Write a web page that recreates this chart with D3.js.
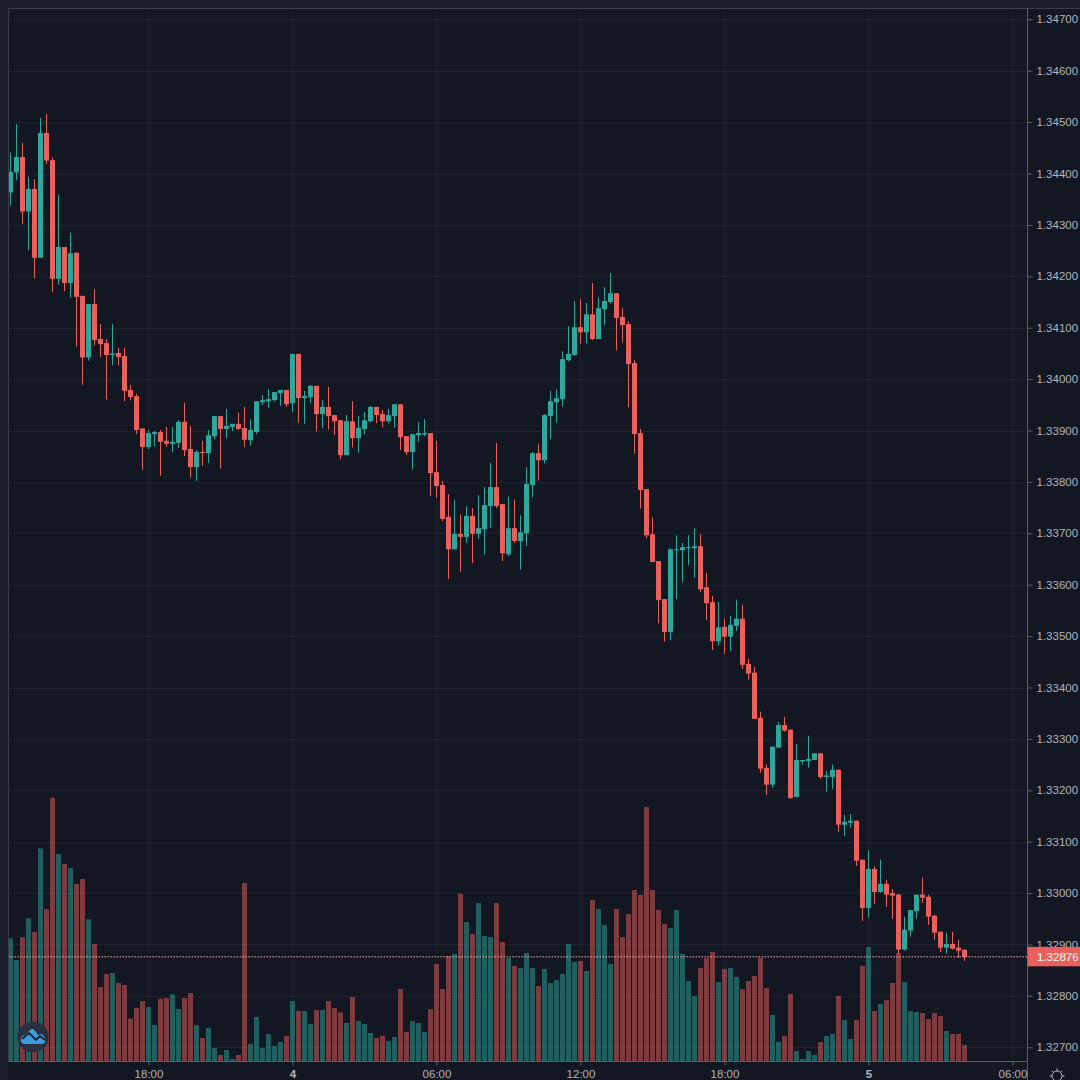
<!DOCTYPE html>
<html>
<head>
<meta charset="utf-8">
<script src="https://cdn.jsdelivr.net/npm/d3@7/dist/d3.min.js"></script>
<style>
html,body{margin:0;padding:0;background:#1a1e2a;overflow:hidden}
svg{display:block}
text{font-family:"Liberation Sans",Arial,sans-serif}
</style>
</head>
<body>
<svg id="chart" width="1080" height="1080"></svg>
<script>
// Prices in units of 0.00001
const open = [134363,134402,134432,134326,134370,134236,134479,134426,134195,134257,134187,134246,134162,134042,134146,134078,134070,134047,134051,134045,133979,133967,133904,133868,133893,133897,133880,133874,133876,133917,133864,133829,133858,133856,133889,133928,133903,133907,133913,133905,133881,133897,133955,133957,133959,133973,133979,133953,134049,133963,133965,133987,133932,133946,133930,133920,133852,133918,133885,133903,133918,133946,133932,133918,133928,133951,133889,133858,133891,133892,133895,133819,133794,133732,133669,133699,133693,133734,133699,133708,133753,133790,133757,133659,133710,133685,133700,133794,133856,133842,133928,133955,133961,134037,134047,134101,134091,134126,134078,134136,134150,134167,134121,134107,134031,133895,133786,133698,133646,133572,133508,133667,133667,133671,133671,133675,133595,133566,133490,133518,133499,133520,133534,133446,133429,133341,133244,133211,133283,133327,133318,133187,133256,133257,133259,133272,133226,133226,133240,133133,133137,133141,133065,132971,133047,133002,133018,133000,132997,132890,132927,132965,132997,132993,132956,132925,132894,132901,132894,132890];
const close = [134403,134432,134326,134370,134236,134479,134425,134195,134257,134187,134245,134160,134042,134146,134076,134068,134047,134050,134043,133977,133965,133901,133868,133895,133897,133878,133874,133878,133917,133862,133829,133858,133856,133891,133928,133903,133909,133913,133903,133882,133901,133957,133959,133961,133975,133979,133951,134049,133963,133967,133987,133932,133946,133928,133918,133852,133918,133885,133905,133920,133946,133930,133918,133930,133951,133887,133858,133893,133895,133895,133817,133792,133728,133669,133699,133693,133734,133699,133710,133755,133790,133753,133661,133710,133685,133702,133796,133856,133842,133930,133957,133963,134039,134049,134101,134091,134126,134078,134138,134152,134167,134119,134105,134029,133893,133784,133696,133644,133570,133508,133669,133669,133673,133673,133675,133591,133564,133490,133517,133499,133522,133534,133444,133427,133339,133242,133211,133285,133327,133316,133185,133259,133259,133261,133272,133226,133229,133240,133133,133139,133141,133063,132971,133047,133002,133018,132997,132995,132890,132929,132967,132997,132991,132954,132923,132894,132901,132892,132888,132876];
const high = [134441,134496,134460,134394,134389,134508,134516,134431,134359,134257,134285,134246,134162,134146,134175,134107,134078,134107,134061,134061,133989,133972,133904,133901,133899,133901,133907,133907,133920,133954,133909,133862,133880,133901,133928,133928,133942,133913,133935,133946,133922,133957,133969,133981,133975,133979,133979,134049,134049,133977,133988,133987,133959,133985,133930,133920,133930,133957,133928,133936,133948,133946,133940,133942,133951,133951,133889,133893,133916,133922,133895,133880,133802,133776,133765,133737,133753,133749,133774,133790,133837,133876,133757,133771,133766,133735,133829,133858,133873,133932,133977,133980,134054,134103,134152,134156,134148,134187,134159,134179,134206,134167,134138,134113,134037,133903,133786,133731,133646,133572,133671,133696,133681,133696,133710,133698,133623,133578,133566,133534,133539,133571,133561,133456,133440,133353,133251,133285,133333,133343,133318,133290,133259,133306,133272,133272,133238,133250,133240,133152,133154,133141,133065,133084,133052,133065,133026,133008,132999,132954,132967,132997,133030,132997,132958,132925,132923,132925,132909,132890];
const low = [134337,134387,134302,134251,134196,134236,134418,134169,134184,134171,134159,134063,133989,134036,134066,134042,133960,134027,134027,133957,133959,133893,133823,133864,133869,133812,133868,133858,133866,133850,133808,133802,133831,133837,133883,133826,133885,133899,133901,133868,133870,133893,133950,133944,133957,133948,133946,133936,133915,133913,133953,133898,133904,133902,133891,133844,133852,133867,133857,133893,133916,133914,133906,133914,133905,133862,133852,133824,133878,133889,133773,133769,133724,133611,133669,133625,133681,133642,133689,133659,133711,133749,133646,133656,133681,133629,133675,133770,133803,133836,133883,133915,133947,134035,134045,134069,134069,134076,134078,134105,134147,134056,134071,133945,133855,133748,133690,133644,133525,133489,133492,133572,133605,133638,133614,133586,133531,133473,133482,133466,133470,133510,133436,133415,133339,133234,133191,133205,133283,133314,133183,133187,133250,133244,133259,133222,133197,133203,133119,133111,133127,133053,132946,132952,132979,133001,132973,132950,132880,132888,132915,132950,132981,132938,132909,132885,132882,132890,132874,132868];
const volume = [368,303,372,428,387,638,456,790,621,591,579,531,546,425,351,222,261,264,234,228,127,159,180,162,108,187,189,200,156,189,204,108,69,99,39,18,33,6,18,534,51,132,39,81,45,57,75,180,150,150,111,153,153,180,159,146,114,192,120,111,84,69,75,60,72,216,87,120,114,87,156,291,216,315,321,502,417,381,474,375,372,474,357,309,285,279,324,279,225,276,234,243,261,351,297,300,270,483,456,408,291,456,372,441,513,498,762,513,453,411,399,453,321,240,195,279,309,327,237,276,279,252,216,240,255,309,219,138,57,75,201,30,6,30,18,57,75,81,195,123,66,123,285,342,150,171,183,234,323,237,150,147,144,126,144,135,90,81,81,48];

const priceTicks = ["1.32700","1.32800","1.32900","1.33000","1.33100","1.33200","1.33300","1.33400","1.33500","1.33600","1.33700","1.33800","1.33900","1.34000","1.34100","1.34200","1.34300","1.34400","1.34500","1.34600","1.34700"];
const timeTickIndex = [23,47,71,95,119,143,167];
const timeTickLabels = ["18:00","4","06:00","12:00","18:00","5","06:00"];
const boldTimeLabels = ["4","5"];

const UP = "#2ea79c", DOWN = "#e9605c";
const W = 1080, H = 1080, L = 8.5, T = 8.5, R = 1027.5, B = 1061.5;

const svg = d3.select("#chart");
const x = d3.scaleLinear().domain([0, 159]).range([10.5, 964.5]);
const y = d3.scaleLinear().domain([132700, 134700]).range([1047.3, 19.3]);
const v = d3.scaleLinear().domain([0, 790]).range([1061, 797.7]);
const idx = d3.range(open.length);
const colour = i => close[i] > open[i] ? UP : DOWN;

// Panel background
svg.append("rect").attr("x", L).attr("y", T).attr("width", W - L).attr("height", H - T).attr("fill", "#131722");

// Grid
const grid = svg.append("g").attr("stroke", "#1e222d").attr("stroke-width", 1);
grid.selectAll("line.h").data(priceTicks).join("line").attr("class", "h")
  .attr("x1", L).attr("x2", R)
  .attr("y1", d => Math.round(y(+d * 1e5)) + .5).attr("y2", d => Math.round(y(+d * 1e5)) + .5);
grid.selectAll("line.v").data(timeTickIndex).join("line").attr("class", "v")
  .attr("x1", d => x(d)).attr("x2", d => x(d))
  .attr("y1", T).attr("y2", B);

// Volume
svg.append("g").selectAll("rect").data(idx).join("rect")
  .attr("x", i => x(i) - 2.5).attr("width", 5)
  .attr("y", i => v(volume[i])).attr("height", i => v(0) - v(volume[i]))
  .attr("fill", colour).attr("fill-opacity", .5);

// Wicks and bodies
const candles = svg.append("g");
candles.selectAll("line").data(idx).join("line")
  .attr("x1", i => x(i)).attr("x2", i => x(i))
  .attr("y1", i => y(high[i])).attr("y2", i => y(low[i]))
  .attr("stroke", colour).attr("stroke-width", 1);
candles.selectAll("rect").data(idx).join("rect")
  .attr("x", i => x(i) - 2.5).attr("width", 5)
  .attr("y", i => y(Math.max(open[i], close[i])))
  .attr("height", i => Math.max(1, Math.abs(y(open[i]) - y(close[i]))))
  .attr("fill", colour);

// Last price line
const last = close[close.length - 1];
svg.append("line").attr("x1", L).attr("x2", R).attr("y1", y(last)).attr("y2", y(last))
  .attr("stroke", "#f5b0ac").attr("stroke-width", 1).attr("stroke-dasharray", "1.5 1.5");

// Frame
const frame = svg.append("g").attr("stroke", "#3a3e49").attr("stroke-width", 1);
frame.append("line").attr("x1", L).attr("x2", W).attr("y1", T).attr("y2", T);
frame.append("line").attr("x1", L).attr("x2", L).attr("y1", T).attr("y2", B);
frame.append("line").attr("x1", R).attr("x2", R).attr("y1", T).attr("y2", H).attr("stroke", "#5a5e69");
frame.append("line").attr("x1", L).attr("x2", R).attr("y1", B).attr("y2", B).attr("stroke", "#5a5e69");

// Price axis
const yAxis = d3.axisRight(y)
  .tickValues(priceTicks.map(d => +d * 1e5))
  .tickFormat((d, i) => priceTicks[i]).tickSize(5).tickPadding(4);
const gy = svg.append("g").attr("transform", `translate(${R},0)`).call(yAxis);
gy.select(".domain").remove();
gy.selectAll("line").attr("stroke", "#5a5e69");
gy.selectAll("text").attr("fill", "#b2b5be").style("font-size", "11.5px");

// Time axis
const xAxis = d3.axisBottom(x).tickValues(timeTickIndex)
  .tickFormat((d, i) => timeTickLabels[i]).tickSize(4).tickPadding(4);
const gx = svg.append("g").attr("transform", `translate(0,${B})`).call(xAxis);
gx.select(".domain").remove();
gx.selectAll("line").attr("stroke", "#5a5e69");
gx.selectAll("text").attr("fill", "#b2b5be").style("font-size", "11.5px")
  .style("font-weight", (d, i) => boldTimeLabels.includes(timeTickLabels[i]) ? "700" : "400");

// Last price tag
const tag = svg.append("g").attr("transform", `translate(${R},${y(last)})`);
tag.append("rect").attr("x", 0).attr("y", -10).attr("width", W - R).attr("height", 19.5).attr("fill", DOWN);
tag.append("text").attr("x", 9.5).attr("y", 4).attr("fill", "#ffffff").style("font-size", "11.5px")
  .text((last / 1e5).toFixed(5));

// Badge
const badge = svg.append("g").attr("transform", "translate(33,1037)");
badge.append("circle").attr("r", 15.5).attr("fill", "#2a2e3e");
badge.append("path")
  .attr("d", "M-11,6 C-14,2 -11,-2 -8,-2 L-3,-7 C-1,-9 1,-8 3,-5 L5,-2 C9,-4 12,-1 12,2 C13,5 11,7 8,7 L-8,7 C-9,7 -10,7 -11,6 Z")
  .attr("fill", "#3d9be0");
badge.append("path").attr("d", "M-11,2 L-4,-4 L3,3 L7,-1 L12,3")
  .attr("fill", "none").attr("stroke", "#1b2333").attr("stroke-width", 1.8);

// Settings gear
const gear = svg.append("g").attr("transform", "translate(1057,1076)").attr("stroke", "#b2b5be").attr("fill", "none");
gear.append("circle").attr("r", 5);
d3.range(8).forEach(k => {
  const a = k * Math.PI / 4;
  gear.append("line").attr("x1", 5 * Math.cos(a)).attr("y1", 5 * Math.sin(a))
    .attr("x2", 7.5 * Math.cos(a)).attr("y2", 7.5 * Math.sin(a));
});
</script>
</body>
</html>
